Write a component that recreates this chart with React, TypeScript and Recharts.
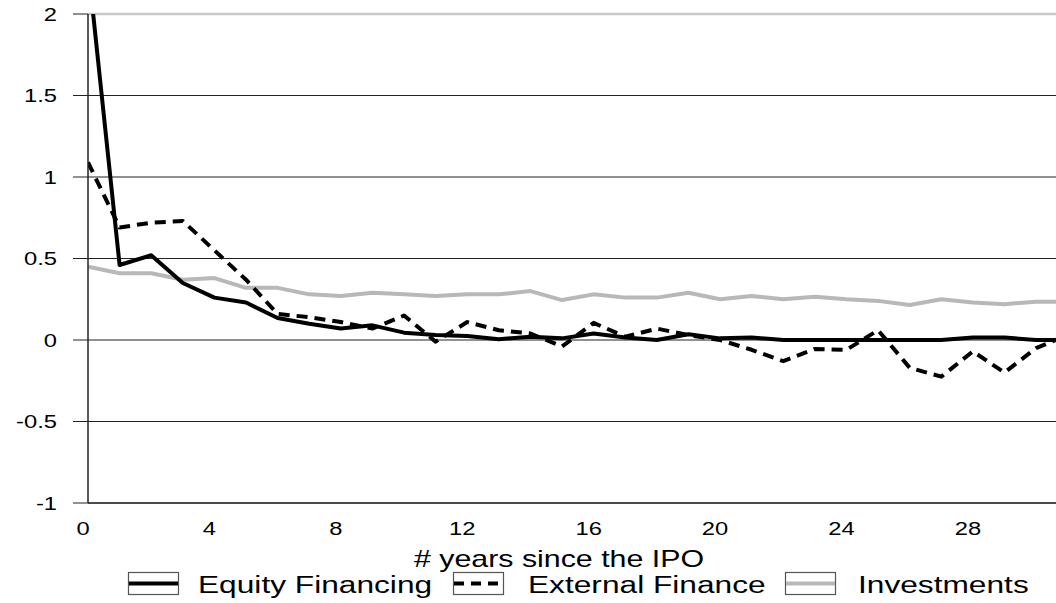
import React from 'react';
import { LineChart, Line, XAxis, YAxis, CartesianGrid, Legend, ReferenceLine } from 'recharts';

const years = [0, 1, 2, 3, 4, 5, 6, 7, 8, 9, 10, 11, 12, 13, 14, 15, 16, 17, 18, 19, 20, 21, 22, 23, 24, 25, 26, 27, 28, 29, 30, 31];
const equityFinancing = [2.3, 0.46, 0.52, 0.35, 0.26, 0.23, 0.135, 0.1, 0.07, 0.09, 0.045, 0.03, 0.025, 0.005, 0.02, 0.01, 0.04, 0.015, 0, 0.035, 0.01, 0.015, 0, 0, 0, 0, 0, 0, 0.015, 0.015, 0, 0];
const externalFinance = [1.09, 0.69, 0.72, 0.73, 0.55, 0.37, 0.16, 0.14, 0.11, 0.07, 0.15, -0.01, 0.11, 0.06, 0.04, -0.04, 0.105, 0.02, 0.07, 0.03, 0, -0.06, -0.13, -0.055, -0.06, 0.06, -0.17, -0.225, -0.07, -0.2, -0.05, 0.03];
const investments = [0.45, 0.41, 0.41, 0.37, 0.38, 0.32, 0.32, 0.28, 0.27, 0.29, 0.28, 0.27, 0.28, 0.28, 0.3, 0.245, 0.28, 0.26, 0.26, 0.29, 0.25, 0.27, 0.25, 0.265, 0.25, 0.24, 0.215, 0.25, 0.23, 0.22, 0.235, 0.235];

const xTicks = [0, 4, 8, 12, 16, 20, 24, 28];
const yTicks = [-1, -0.5, 0, 0.5, 1, 1.5, 2];
const xTitle = '# years since the IPO';

const seriesNames = { equity: 'Equity Financing', external: 'External Finance', inv: 'Investments' };

const data = years.map((y, i) => ({
  year: y,
  equity: equityFinancing[i],
  external: externalFinance[i],
  inv: investments[i],
}));

const FONT = '"Liberation Sans", Arial, sans-serif';
const SX = 1.32;

const XTick = (props: any) => {
  const { x, y, payload } = props;
  return (
    <g transform={`translate(${x - 5},${y})`}>
      <text transform={`scale(${SX},1)`} textAnchor="middle" y={32} fontSize={18} fontFamily={FONT} fill="#000">
        {payload.value}
      </text>
    </g>
  );
};

const YTick = (props: any) => {
  const { x, y, payload } = props;
  return (
    <g transform={`translate(${x},${y})`}>
      <text transform={`scale(${SX},1)`} textAnchor="end" y={6.5} fontSize={18} fontFamily={FONT} fill="#000">
        {payload.value}
      </text>
    </g>
  );
};

const XTitle = (props: any) => {
  const vb = props.viewBox || {};
  const cx = vb.x + vb.width / 2 - 13;
  return (
    <g transform={`translate(${cx},${vb.y + 64})`}>
      <text transform={`scale(${SX},1)`} textAnchor="middle" fontSize={23} fontFamily={FONT} fill="#000">
        {xTitle}
      </text>
    </g>
  );
};

const legendItems = [
  { key: 'equity', box: 128, text: 198, color: '#000', dash: undefined as string | undefined },
  { key: 'external', box: 453, text: 528, color: '#000', dash: '10 7' },
  { key: 'inv', box: 785, text: 858, color: '#b8b8b8', dash: undefined as string | undefined },
];

const LegendContent = () => (
  <svg width={1056} height={40} style={{ display: 'block', overflow: 'visible' }}>
    {legendItems.map((it) => (
      <g key={it.key}>
        <rect x={it.box + 0.5} y={7.5} width={50} height={22} fill="#fff" stroke="#555" strokeWidth={1.2} />
        <line x1={it.box + 1} x2={it.box + 50} y1={18.5} y2={18.5} stroke={it.color} strokeWidth={4} strokeDasharray={it.dash} />
        <g transform={`translate(${it.text},28)`}>
          <text transform={`scale(${SX},1)`} fontSize={24} fontFamily={FONT} fill="#000">
            {(seriesNames as any)[it.key]}
          </text>
        </g>
      </g>
    ))}
  </svg>
);

export default function App() {
  return (
    <div style={{ position: 'absolute', left: 0, top: 0, width: 1056, height: 603, background: '#fff' }}>
      <LineChart width={1056} height={603} data={data} margin={{ top: 14, right: 0, left: 0, bottom: 0 }}>
        <CartesianGrid vertical={false} stroke="#222" strokeWidth={1} />
        <XAxis
          dataKey="year"
          type="number"
          domain={[0, 30.63]}
          allowDataOverflow
          ticks={xTicks}
          interval={0}
          tickLine={false}
          tickSize={0}
          tickMargin={0}
          height={100}
          axisLine={{ stroke: '#333', strokeWidth: 1.5 }}
          tick={<XTick />}
          label={<XTitle />}
        />
        <YAxis
          type="number"
          domain={[-1, 2]}
          allowDataOverflow
          ticks={yTicks}
          interval={0}
          width={88}
          tickSize={15}
          tickMargin={16}
          tickLine={{ stroke: '#222' }}
          axisLine={{ stroke: '#222', strokeWidth: 1.5 }}
          tick={<YTick />}
        />
        <ReferenceLine y={2} stroke="#c8c8c8" strokeWidth={2.5} />
        <Line dataKey="inv" name={seriesNames.inv} stroke="#b8b8b8" strokeWidth={4} dot={false} isAnimationActive={false} strokeLinejoin="round" />
        <Line dataKey="external" name={seriesNames.external} stroke="#000" strokeWidth={4} strokeDasharray="11 7" dot={false} isAnimationActive={false} strokeLinejoin="round" />
        <Line dataKey="equity" name={seriesNames.equity} stroke="#000" strokeWidth={4} dot={false} isAnimationActive={false} strokeLinejoin="round" />
        <Legend
          layout="horizontal"
          verticalAlign="middle"
          align="center"
          content={<LegendContent />}
          wrapperStyle={{ left: 0, top: 565, width: 1056, height: 40 }}
        />
      </LineChart>
    </div>
  );
}
